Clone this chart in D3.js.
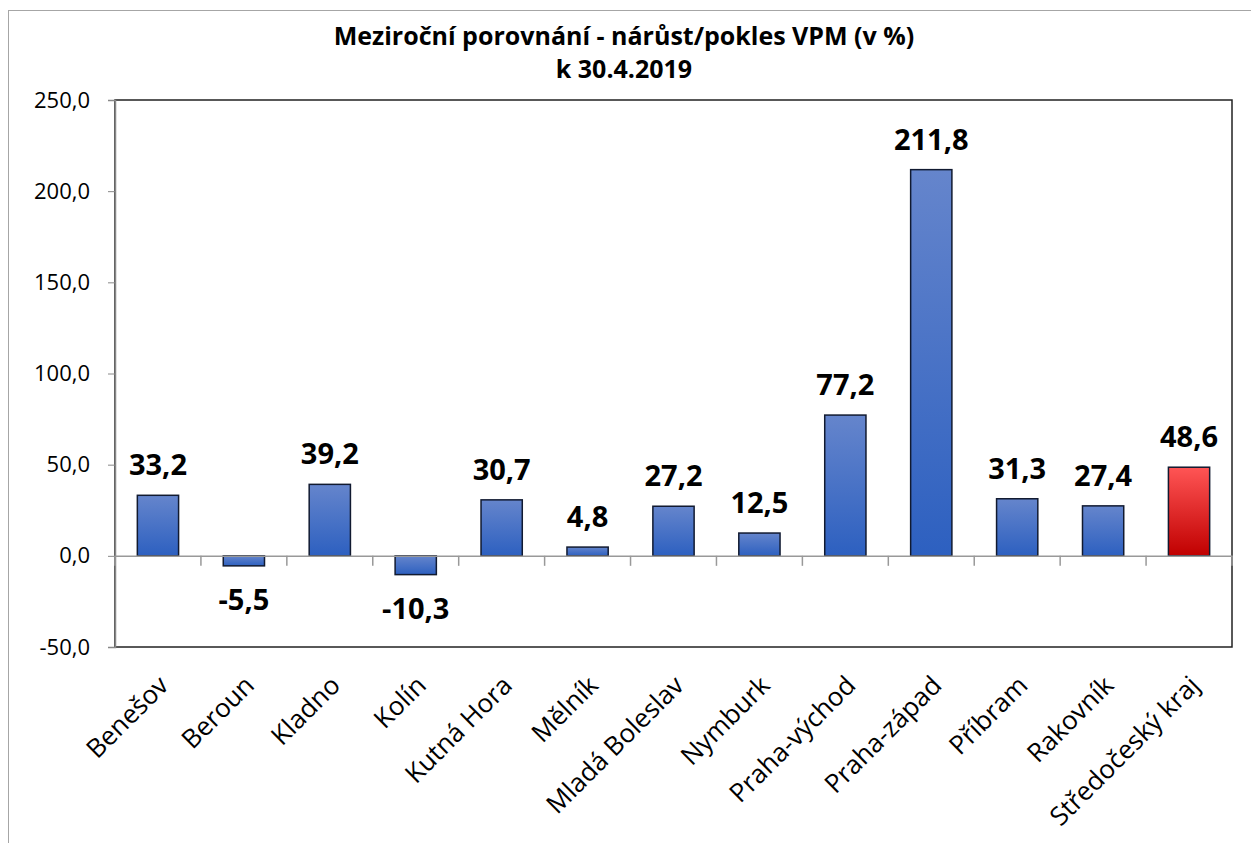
<!DOCTYPE html>
<html>
<head>
<meta charset="utf-8">
<script src="https://cdnjs.cloudflare.com/ajax/libs/d3/7.8.5/d3.min.js"></script>
<style>
  body { margin: 0; background: #fff; }
  text { font-family: "Open Sans", sans-serif; }
</style>
</head>
<body>
<svg id="chart"></svg>
<script>
var width = 1251;
var height = 843;

var categories = ["Benešov", "Beroun", "Kladno", "Kolín", "Kutná Hora", "Mělník", "Mladá Boleslav",
  "Nymburk", "Praha-východ", "Praha-západ", "Příbram", "Rakovník", "Středočeský kraj"];
var values = [33.2, -5.5, 39.2, -10.3, 30.7, 4.8, 27.2, 12.5, 77.2, 211.8, 31.3, 27.4, 48.6];
var yTicks = [-50, 0, 50, 100, 150, 200, 250];
var titleLines = ["Meziroční porovnání - nárůst/pokles VPM (v %)", "k 30.4.2019"];

var plot = { left: 115, right: 1232, top: 100, bottom: 647 };

var svg = d3.select("#chart").attr("width", width).attr("height", height);

// czech number format, plain hyphen for minus
function fmt(d) { return d3.format(".1f")(d).replace(".", ",").replace("\u2212", "-"); }

// gradients for bars
var defs = svg.append("defs");
function gradient(id, top, bottom) {
  var gr = defs.append("linearGradient").attr("id", id)
    .attr("x1", 0).attr("y1", 0).attr("x2", 0).attr("y2", 1);
  gr.append("stop").attr("offset", "0%").attr("stop-color", top);
  gr.append("stop").attr("offset", "100%").attr("stop-color", bottom);
}
gradient("blue", "#6585cc", "#2d60c0");
gradient("red", "#ff5555", "#c00000");

// outer chart border
svg.append("rect")
  .attr("x", 8.5).attr("y", 10.5)
  .attr("width", 1260).attr("height", 900)
  .attr("fill", "none").attr("stroke", "#a6a6a6").attr("stroke-width", 1);

var x = d3.scaleBand().domain(categories).range([plot.left, plot.right]).paddingInner(0.52).paddingOuter(0.26);
var xc = d3.scaleBand().domain(categories).range([plot.left, plot.right]);
var y = d3.scaleLinear().domain([-50, 250]).range([plot.bottom, plot.top]);

// plot area frame
svg.append("rect")
  .attr("x", plot.left).attr("y", plot.top)
  .attr("width", plot.right - plot.left).attr("height", plot.bottom - plot.top)
  .attr("fill", "none").attr("stroke", "#222").attr("stroke-width", 1.5);

// y axis
var yAxis = d3.axisLeft(y).tickValues(yTicks).tickSize(7).tickPadding(18).tickFormat(fmt);
var gy = svg.append("g").attr("transform", "translate(" + plot.left + ",0)").call(yAxis);
gy.select(".domain").attr("stroke", "#888").attr("stroke-width", 1.5);
gy.selectAll(".tick line").attr("stroke", "#888");
gy.selectAll("text").attr("font-size", 22).attr("fill", "#000")
  .attr("font-family", "Open Sans, sans-serif");

// bars
svg.selectAll(".bar").data(values).enter().append("rect")
  .attr("class", "bar")
  .attr("x", function (d, i) { return x(categories[i]); })
  .attr("width", x.bandwidth())
  .attr("y", function (d) { return y(Math.max(0, d)); })
  .attr("height", function (d) { return Math.abs(y(d) - y(0)); })
  .attr("fill", function (d, i) { return i == categories.length - 1 ? "url(#red)" : "url(#blue)"; })
  .attr("stroke", "#111a30").attr("stroke-width", 1.5);

// zero line with category ticks
var xAxis = d3.axisBottom(xc).tickSize(0).tickFormat("");
var gx = svg.append("g").attr("transform", "translate(0," + y(0) + ")").call(xAxis);
gx.select(".domain").attr("stroke", "#999").attr("stroke-width", 1.5);
svg.selectAll(".cat-tick").data(d3.range(categories.length + 1)).enter().append("line")
  .attr("x1", function (i) { return plot.left + i * xc.step(); })
  .attr("x2", function (i) { return plot.left + i * xc.step(); })
  .attr("y1", y(0)).attr("y2", y(0) + 10)
  .attr("stroke", "#999").attr("stroke-width", 1.5);

// value labels
svg.selectAll(".val").data(values).enter().append("text")
  .attr("x", function (d, i) { return xc(categories[i]) + xc.bandwidth() / 2; })
  .attr("y", function (d) { return d >= 0 ? y(d) - 20 : y(d) + 44; })
  .attr("text-anchor", "middle")
  .attr("font-size", 29).attr("font-weight", "bold")
  .text(fmt);

// category labels
svg.selectAll(".cat").data(categories).enter().append("text")
  .attr("transform", function (d) {
    return "translate(" + (xc(d) + xc.bandwidth() / 2 + 12) + "," + (plot.bottom + 40) + ") rotate(-45)";
  })
  .attr("text-anchor", "end")
  .attr("font-size", 26)
  .text(function (d) { return d; });

// title
svg.selectAll(".title").data(titleLines).enter().append("text")
  .attr("x", 624)
  .attr("y", function (d, i) { return 45 + i * 33; })
  .attr("text-anchor", "middle")
  .attr("font-size", 25).attr("font-weight", "bold")
  .text(function (d) { return d; });
</script>
</body>
</html>
